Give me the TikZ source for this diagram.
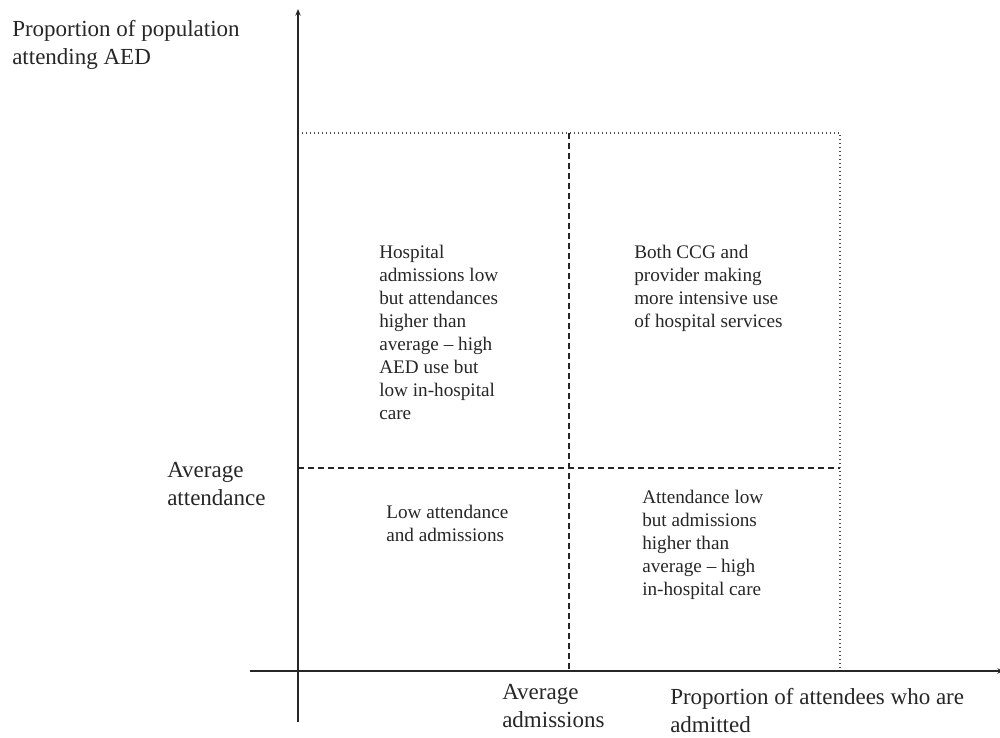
\documentclass[tikz,border=0pt]{standalone}
\usepackage{fontspec}
\setmainfont{Liberation Serif}
\usetikzlibrary{arrows.meta}
\begin{document}
\begin{tikzpicture}[x=0.75pt,y=-0.75pt,
  axis/.style={line width=1.1pt, draw=black!85},
  dashline/.style={line width=0.9pt, draw=black!85, dash pattern=on 4.5pt off 3pt},
  dotline/.style={line width=1pt, draw=black!70, dash pattern=on 1pt off 2pt},
  axislabel/.style={font=\fontsize{17.25}{21}\selectfont, text=black!85, align=left, anchor=north west, inner sep=0pt},
  quadlabel/.style={font=\fontsize{14.4}{17.25}\selectfont, text=black!85, align=left, anchor=north west, inner sep=0pt}]
\useasboundingbox (0,0) rectangle (1000,738);
\clip (0,0) rectangle (1000,738);
% axes
\coordinate (ytop) at (298,9);
\coordinate (ybot) at (298,722);
\coordinate (xleft) at (250,671);
\coordinate (xright) at (1004,671);
% quadrant frame
\coordinate (TL) at (298,133);
\coordinate (TR) at (840,133);
\coordinate (BR) at (840,671);
\coordinate (MT) at (569,133);
\coordinate (MB) at (569,671);
\coordinate (ML) at (298,468);
\coordinate (MR) at (840,468);

\draw[dotline] (TL) -- (TR) -- (BR);
\draw[dashline] (MT) -- (MB);
\draw[dashline] (ML) -- (MR);
\draw[axis, -{Stealth[length=5pt,width=4pt]}] (ybot) -- (ytop);
\draw[axis, -{Stealth[length=5pt,width=4pt]}] (xleft) -- (xright);

% labels
\node[axislabel] (ylab) at (12,20) {Proportion of population\\attending AED};
\node[axislabel] (avgatt) at (167,462) {Average\\attendance};
\node[axislabel] (avgadm) at (502,684) {Average\\admissions};
\node[axislabel] (xlab) at (670,688) {Proportion of attendees who are\\admitted};

\node[quadlabel] (q1) at (379,245) {Hospital\\admissions low\\but attendances\\higher than\\average -- high\\AED use but\\low in-hospital\\care};
\node[quadlabel] (q2) at (634,245) {Both CCG and\\provider making\\more intensive use\\of hospital services};
\node[quadlabel] (q3) at (386,505) {Low attendance\\and admissions};
\node[quadlabel] (q4) at (642,490) {Attendance low\\but admissions\\higher than\\average -- high\\in-hospital care};
\end{tikzpicture}
\end{document}
